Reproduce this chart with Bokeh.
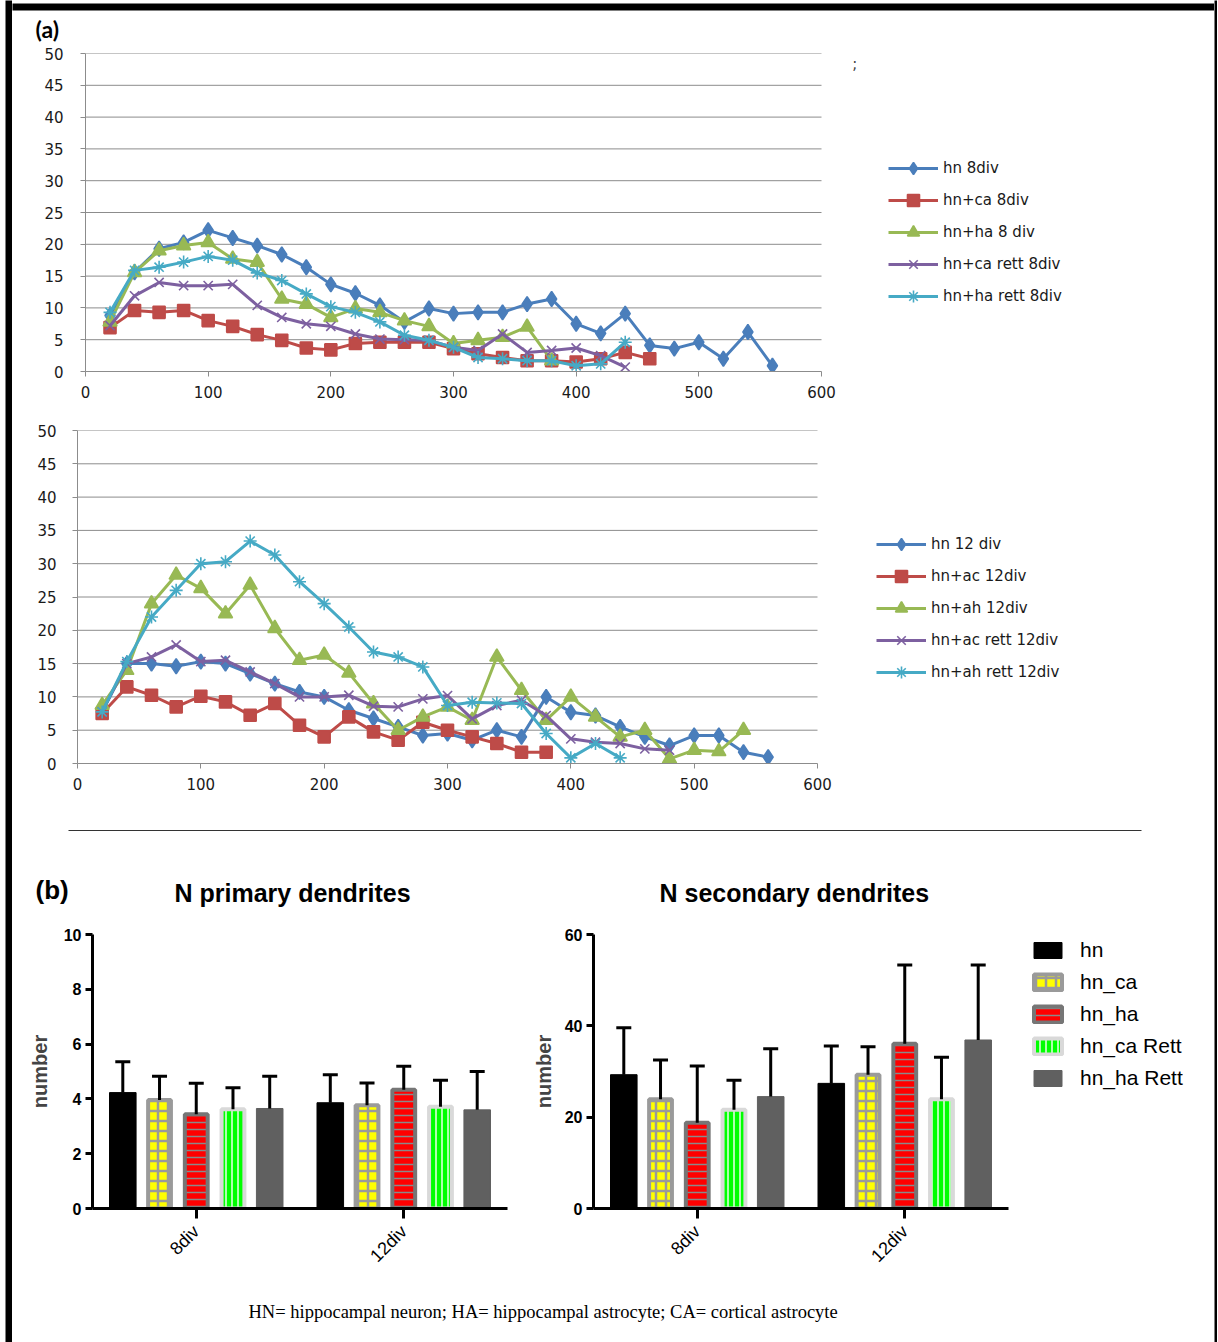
import math
from bokeh.plotting import figure
from bokeh.layouts import column, row
from bokeh.models import (Legend, LegendItem, Label, FixedTicker, Whisker, BoxAnnotation,
                          ColumnDataSource, Spacer, TeeHead, Range1d)
from bokeh.embed import file_html
from bokeh.resources import INLINE

# ---------------- data ----------------
DIST = [20, 40, 60, 80, 100, 120, 140, 160, 180, 200, 220, 240, 260, 280,
        300, 320, 340, 360, 380, 400, 420, 440, 460, 480, 500, 520, 540, 560]
X_TICKS = [0, 100, 200, 300, 400, 500, 600]
Y_TICKS = [0, 5, 10, 15, 20, 25, 30, 35, 40, 45, 50]

# (a) top: 8 div
hn_8div = [8.8, 15.6, 19.3, 20.3, 22.2, 21.0, 19.8, 18.4, 16.4, 13.7, 12.3, 10.4, 7.8, 9.9,
           9.1, 9.3, 9.3, 10.6, 11.4, 7.5, 6.0, 9.1, 4.1, 3.6, 4.6, 2.0, 6.2, 0.9]
hn_ca_8div = [6.9, 9.6, 9.3, 9.6, 8.0, 7.1, 5.8, 4.9, 3.7, 3.4, 4.4, 4.6, 4.6, 4.6,
              3.6, 2.8, 2.2, 1.7, 1.7, 1.5, 2.0, 3.0, 2.0]
hn_ha_8div = [7.8, 15.6, 19.0, 19.8, 20.3, 17.7, 17.2, 11.4, 10.6, 8.5, 9.9, 9.3, 8.0, 7.1,
              4.4, 4.9, 5.4, 7.0, 1.7]
hn_ca_rett_8div = [7.2, 11.9, 14.0, 13.5, 13.5, 13.7, 10.4, 8.5, 7.5, 7.1, 5.9, 5.1, 5.0, 4.9,
                   3.8, 3.3, 5.9, 3.0, 3.3, 3.7, 2.5, 0.7]
hn_ha_rett_8div = [9.3, 15.9, 16.4, 17.2, 18.1, 17.5, 15.5, 14.3, 12.2, 10.2, 9.3, 7.8, 5.7, 4.9,
                   3.8, 2.2, 2.0, 1.7, 1.7, 0.9, 1.2, 4.6]
labels_8div = ["hn 8div", "hn+ca 8div", "hn+ha 8 div", "hn+ca rett 8div", "hn+ha rett 8div"]

# (a) bottom: 12 div
hn_12div = [7.75, 15.0, 15.0, 14.6, 15.3, 15.0, 13.5, 12.0, 10.75, 10.0, 8.0, 6.75, 5.5, 4.2,
            4.5, 3.5, 5.0, 4.0, 10.0, 7.7, 7.2, 5.5, 4.0, 2.7, 4.2, 4.2, 1.7, 0.95]
hn_ac_12div = [7.5, 11.5, 10.25, 8.5, 10.1, 9.25, 7.25, 9.0, 5.75, 4.0, 7.0, 4.75, 3.5, 6.2,
               5.0, 4.0, 3.0, 1.7, 1.7]
hn_ah_12div = [8.75, 14.0, 24.0, 28.3, 26.3, 22.5, 26.8, 20.3, 15.5, 16.3, 13.6, 9.0, 5.0, 7.0,
               8.5, 6.5, 16.0, 11.0, 6.5, 10.0, 7.0, 4.0, 5.0, 0.7, 2.0, 1.8, 5.0]
hn_ac_rett_12div = [7.75, 15.0, 16.0, 17.8, 15.3, 15.5, 13.75, 12.0, 10.0, 10.0, 10.25, 8.6, 8.5, 9.7,
                    10.2, 6.7, 8.7, 9.5, 7.2, 3.7, 3.2, 3.0, 2.2, 2.0]
hn_ah_rett_12div = [7.75, 15.3, 22.0, 26.0, 30.0, 30.3, 33.4, 31.3, 27.3, 24.0, 20.5, 16.75, 16.0, 14.5,
                    8.7, 9.2, 9.1, 9.0, 4.5, 0.85, 3.0, 0.85]
labels_12div = ["hn 12 div", "hn+ac 12div", "hn+ah 12div", "hn+ac rett 12div", "hn+ah rett 12div"]

# (b) bars: [8div, 12div]
groups = ["8div", "12div"]
bar_names = ["hn", "hn_ca", "hn_ha", "hn_ca Rett", "hn_ha Rett"]
prim_mean = {"hn": [4.23, 3.86], "hn_ca": [3.96, 3.77], "hn_ha": [3.44, 4.33],
             "hn_ca Rett": [3.62, 3.71], "hn_ha Rett": [3.65, 3.60]}
prim_err = {"hn": [1.13, 1.02], "hn_ca": [0.87, 0.81], "hn_ha": [1.13, 0.86],
            "hn_ca Rett": [0.79, 0.97], "hn_ha Rett": [1.18, 1.40]}
sec_mean = {"hn": [29.3, 27.4], "hn_ca": [23.9, 29.3], "hn_ha": [18.8, 36.1],
            "hn_ca Rett": [21.6, 23.9], "hn_ha Rett": [24.5, 36.9]}
sec_err = {"hn": [10.3, 8.2], "hn_ca": [8.6, 6.1], "hn_ha": [12.4, 17.2],
           "hn_ca Rett": [6.5, 9.2], "hn_ha Rett": [10.5, 16.4]}

CAPTION = "HN= hippocampal neuron; HA= hippocampal astrocyte; CA= cortical astrocyte"

# ---------------- styles ----------------
INNER_W = 1202
COLORS = ["#4A7EBB", "#BE4B48", "#98B954", "#7D60A0", "#46AAC5"]
MARKERS = ["diamond", "square", "triangle", "x", "asterisk"]
MSIZES = [15, 12, 14, 13, 13]


def blank(p):
    p.axis.visible = False
    p.grid.visible = False
    p.outline_line_color = None
    return p


def strip(w, h, color="black"):
    p = figure(width=w, height=h, x_range=Range1d(0, 1), y_range=Range1d(0, 1),
               min_border=0, output_backend="svg", toolbar_location=None,
               background_fill_color=color, border_fill_color=color)
    return blank(p)


def canvas(w, h):
    # pixel canvas: x right, y down
    p = figure(width=w, height=h, x_range=Range1d(0, w), y_range=Range1d(h, 0),
               min_border=0, output_backend="svg", toolbar_location=None)
    return blank(p)


def text(p, x, y, t, font, size, bold=False):
    p.add_layout(Label(x=x, y=y, text=t, text_font=font, text_font_size=size,
                       text_font_style="bold" if bold else "normal",
                       text_align="left", text_baseline="middle", text_color="black"))


def line_chart(height, top, fh, left, series, labels, leg_loc, px_per_unit_x, ystand):
    fw = INNER_W - left
    p = figure(width=INNER_W, height=height,
               x_range=Range1d(0, fw / px_per_unit_x), y_range=Range1d(0, 50),
               min_border_left=left, min_border_right=0,
               min_border_top=top, min_border_bottom=height - top - fh,
               output_backend="svg", toolbar_location=None)
    p.outline_line_color = None
    p.xaxis.ticker = FixedTicker(ticks=X_TICKS)
    p.yaxis.ticker = FixedTicker(ticks=Y_TICKS)
    p.xaxis.bounds = (0, 600)
    for ax in (p.xaxis[0], p.yaxis[0]):
        ax.axis_line_color = "#8c8c8c"
        ax.major_tick_line_color = "#8c8c8c"
        ax.major_tick_out = 5
        ax.major_tick_in = 0
        ax.minor_tick_line_color = None
        ax.major_label_text_font = "DejaVu Sans"
        ax.major_label_text_font_size = "15px"
        ax.major_label_text_color = "#1a1a1a"
    p.yaxis.major_label_standoff = ystand
    p.xaxis.major_label_standoff = 9
    p.grid.visible = False
    # horizontal gridlines limited to the 0..600 plotting area
    p.segment(x0=0, x1=600, y0=Y_TICKS[1:], y1=Y_TICKS[1:], line_color="#8c8c8c",
              line_width=1, level="underlay")
    items = []
    for vals, lab, col, mk, sz in zip(series, labels, COLORS, MARKERS, MSIZES):
        src = ColumnDataSource(dict(x=DIST[:len(vals)], y=vals))
        l = p.line("x", "y", source=src, line_color=col, line_width=3)
        s = p.scatter("x", "y", source=src, marker=mk, size=sz, fill_color=col,
                      line_color=col, line_width=1.6)
        items.append(LegendItem(label=lab, renderers=[l, s]))
    leg = Legend(items=items, location=leg_loc, glyph_width=50, glyph_height=30,
                 label_height=30, spacing=2, padding=0, margin=0, label_standoff=5,
                 border_line_color=None, background_fill_alpha=0,
                 label_text_font="DejaVu Sans", label_text_font_size="15px",
                 label_text_color="#1a1a1a")
    p.add_layout(leg)
    return p


# --- header (a)  (page y 0..44)
hdrA = canvas(INNER_W, 44)
hdrA.add_layout(BoxAnnotation(left=-20, right=INNER_W + 20, top=3, bottom=10,
                              fill_color="black", fill_alpha=1, line_color=None))
text(hdrA, 23, 28.5, "(a)", "Lato", "23px", bold=True)

# --- top line chart (page y 44..408)
f1 = line_chart(364, 9, 318, 73,
                [hn_8div, hn_ca_8div, hn_ha_8div, hn_ca_rett_8div, hn_ha_rett_8div],
                labels_8div, (803, 60), 736 / 600, 17)
f1.add_layout(Label(x=625, y=48.4, text=";", text_font="DejaVu Sans",
                    text_font_size="15px", text_baseline="middle", text_align="left"))

# --- bottom line chart (page y 408..829)
f2 = line_chart(421, 22, 333, 65,
                [hn_12div, hn_ac_12div, hn_ah_12div, hn_ac_rett_12div, hn_ah_rett_12div],
                labels_12div, (799, 76), 740 / 600, 16)

# --- header (b)  (page y 829..915)
hdrB = canvas(INNER_W, 86)
hdrB.add_layout(BoxAnnotation(left=56, right=1129, top=0.5, bottom=1.6,
                              fill_color="#333333", fill_alpha=1, line_color=None))
text(hdrB, 23, 60, "(b)", "Liberation Sans", "26px", bold=True)
text(hdrB, 162, 63, "N primary dendrites", "Liberation Sans", "25px", bold=True)
text(hdrB, 647, 63, "N secondary dendrites", "Liberation Sans", "25px", bold=True)

# --- bar charts (page y 915..1290)
GROUP_POS = [0, 1]
OFFSETS = [-0.354, -0.177, 0.0, 0.177, 0.354]
BAR_STYLES = [
    dict(width=0.128, fill_color="black", line_color="black", line_width=1),
    dict(width=0.110, fill_color="#FFFF00", line_color="#9a9a9a", line_width=4,
         hatch_pattern="cross", hatch_color="#9a9a9a", hatch_scale=10, hatch_weight=2.5),
    dict(width=0.110, fill_color="#FF0000", line_color="#767676", line_width=4,
         hatch_pattern="horizontal_line", hatch_color="#8a8a8a", hatch_scale=7, hatch_weight=1.5),
    dict(width=0.110, fill_color="#00FF00", line_color="#d9d9d9", line_width=4,
         hatch_pattern="vertical_line", hatch_color="#e8ffe8", hatch_scale=6, hatch_weight=1.5),
    dict(width=0.128, fill_color="#606060", line_color="#606060", line_width=1),
]
BAR_PX = 207.5  # pixels per group unit


def bar_chart(width, left, ymax, yticks, means, errs, label_standoff):
    fw = width - left
    p = figure(width=width, height=375, x_range=Range1d(-0.5, -0.5 + fw / BAR_PX),
               y_range=Range1d(0, ymax),
               min_border_left=left, min_border_right=0,
               min_border_top=19, min_border_bottom=82,
               output_backend="svg", toolbar_location=None)
    p.outline_line_color = None
    p.grid.visible = False
    rends = []
    for i, name in enumerate(bar_names):
        xs = [g + OFFSETS[i] for g in GROUP_POS]
        m = means[name]
        up = [a + b for a, b in zip(m, errs[name])]
        src = ColumnDataSource(dict(x=xs, top=m, upper=up))
        r = p.vbar(x="x", top="top", bottom=0, source=src, **BAR_STYLES[i])
        rends.append(r)
        p.add_layout(Whisker(source=src, base="x", upper="upper", lower="top",
                             line_width=3, line_color="black", level="annotation",
                             upper_head=TeeHead(size=15, line_width=3, line_color="black"),
                             lower_head=None))
    p.xaxis.ticker = FixedTicker(ticks=GROUP_POS)
    p.xaxis.major_label_overrides = {0: groups[0], 1: groups[1]}
    p.xaxis.major_label_orientation = math.pi / 4
    p.xaxis.bounds = (-0.5, 1.5)
    p.yaxis.ticker = FixedTicker(ticks=yticks)
    for ax in (p.xaxis[0], p.yaxis[0]):
        ax.axis_line_color = "black"
        ax.axis_line_width = 3
        ax.major_tick_line_color = "black"
        ax.major_tick_line_width = 3
        ax.major_tick_in = 0
        ax.minor_tick_line_color = None
        ax.major_label_text_font = "Liberation Sans"
        ax.major_label_text_color = "black"
    p.xaxis.major_tick_out = 10
    p.xaxis.major_label_text_font_size = "18px"
    p.xaxis.major_label_standoff = 10
    p.yaxis.major_tick_out = 7
    p.yaxis.major_label_text_font_size = "16px"
    p.yaxis.major_label_text_font_style = "bold"
    p.yaxis.major_label_standoff = 4
    p.yaxis.axis_label = "number"
    p.yaxis.axis_label_text_font = "Liberation Sans"
    p.yaxis.axis_label_text_font_size = "20px"
    p.yaxis.axis_label_text_font_style = "bold"
    p.yaxis.axis_label_standoff = label_standoff
    return p, rends


b1, _ = bar_chart(508, 80, 10, [0, 2, 4, 6, 8, 10], prim_mean, prim_err, 10)
b2, rends2 = bar_chart(694, 73, 60, [0, 20, 40, 60], sec_mean, sec_err, 7)
leg2 = Legend(items=[LegendItem(label=n, renderers=[r]) for n, r in zip(bar_names, rends2)],
              location=(437, 118), glyph_width=35, glyph_height=20, label_height=20,
              spacing=8, padding=0, margin=0, label_standoff=15,
              border_line_color=None, background_fill_alpha=0,
              label_text_font="Liberation Sans", label_text_font_size="21px",
              label_text_color="black")
b2.add_layout(leg2)

# --- caption (page y 1290..1342)
cap = canvas(INNER_W, 52)
text(cap, 236, 21, CAPTION, "Liberation Serif", "18.5px")

inner = column(row(hdrA), row(f1), row(f2), row(hdrB), row(b1, b2), row(cap))
page = row(Spacer(width=5, height=1342), strip(7, 1342), inner,
           strip(3, 1342), Spacer(width=1, height=1342))

open("out.html", "w").write(file_html(page, INLINE))
